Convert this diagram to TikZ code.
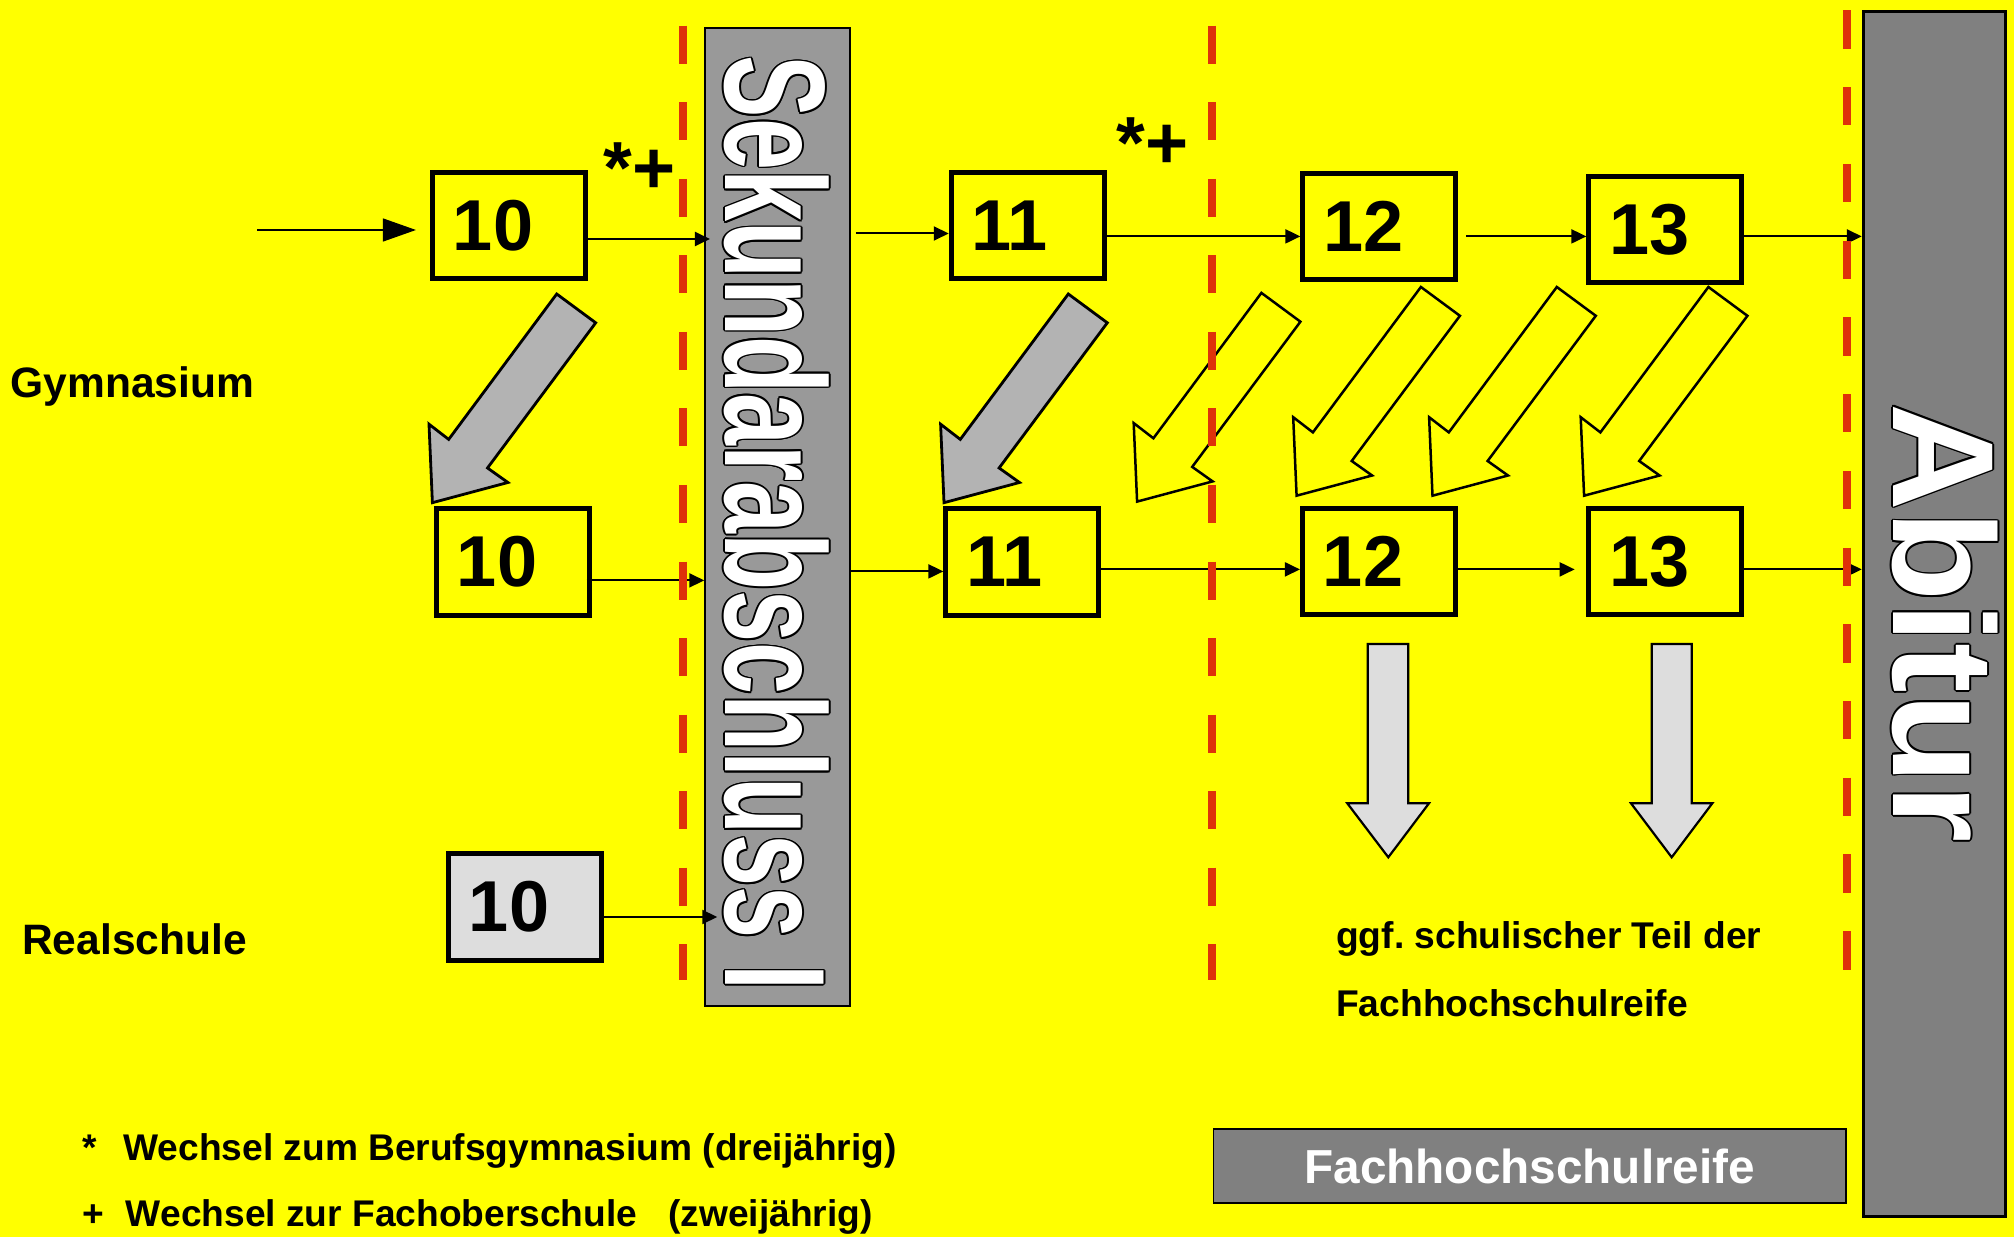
\documentclass[tikz,border=0pt]{standalone}
\usepackage{fontspec}
\setmainfont{Liberation Sans}
\newfontfamily\sekfont{Liberation Sans}[FakeStretch=0.653]
\newfontfamily\abifont{Liberation Sans}[FakeStretch=1.035]
\usetikzlibrary{arrows.meta,calc}
\frenchspacing
\definecolor{bgyellow}{RGB}{255,255,0}
\definecolor{dashred}{RGB}{222,50,10}
\definecolor{sekgray}{RGB}{153,153,153}
\definecolor{abigray}{RGB}{128,128,128}
\definecolor{arrgray}{RGB}{179,179,179}
\definecolor{boxgray}{RGB}{221,221,221}
\newcommand\blkarrow[3]{%
  \begin{scope}[shift={(#1,#2)}]
    \draw[#3] (0,0) -- (39,28.8) -- (-69.2,174) -- (-48.8,188.5) -- (-124.3,208.7) -- (-127.7,130.2) -- (-108,145.4) -- cycle;
  \end{scope}}
\newcommand\outlinetext[4]{%
  \foreach \oang in {0,30,...,330} {\node[#3, text=black] at ($(#2)+(\oang:0.016cm)$) {#4};}
  \node[#3, text=white] (#1) at (#2) {#4};}
\begin{document}
\begin{tikzpicture}[x=0.01cm,y=-0.01cm,
  yearbox/.style={draw=black, line width=0.05cm, fill=bgyellow, minimum width=1.53cm, minimum height=1.06cm,
    text width=1.12cm, inner xsep=0.205cm, inner ysep=0pt, align=left, font=\fontsize{20.5}{24}\selectfont\bfseries},
  conn/.style={line width=0.02cm, -{Triangle[length=0.15cm,width=0.14cm]}},
  bigconn/.style={line width=0.013cm, -{Triangle[length=0.33cm,width=0.23cm]}},
  lbl/.style={anchor=base west, inner sep=0pt},
  grayarrow/.style={draw=black, line width=0.028cm, fill=arrgray, line join=miter},
  yelarrow/.style={draw=black, line width=0.025cm, fill=bgyellow, line join=miter},
  downarrow/.style={draw=black, line width=0.022cm, fill=boxgray, line join=miter},
  reddash/.style={draw=dashred, line width=0.077cm, dash pattern=on 0.38cm off 0.385cm}]
\fill[bgyellow] (0,0) rectangle (2014,1237);
\useasboundingbox (0,0) rectangle (2014,1237);

% bars
\node[draw=black, line width=0.02cm, fill=sekgray, minimum width=1.45cm, minimum height=9.77cm, inner sep=0pt] (sek) at (777.8,517.25) {};
\node[draw=black, line width=0.03cm, fill=abigray, minimum width=1.42cm, minimum height=12.05cm, inner sep=0pt] (abi) at (1934.3,614) {};
\node[draw=black, line width=0.015cm, fill=abigray, minimum width=6.32cm, minimum height=0.74cm, inner sep=0pt,
  text=white, font=\fontsize{13.57}{16}\selectfont\bfseries] (fhr) at (1529.75,1166.15) {Fachhochschulreife};

% year boxes
\node[yearbox] (g10) at (509,225.4) {10};
\node[yearbox] (g11) at (1027.8,225.8) {11};
\node[yearbox] (g12) at (1379.4,226.8) {12};
\node[yearbox] (g13) at (1665.4,229.4) {13};
\node[yearbox] (r10) at (513,562) {10};
\node[yearbox] (m11) at (1022.4,562) {11};
\node[yearbox] (m12) at (1379,561.8) {12};
\node[yearbox] (m13) at (1665.4,561.8) {13};
\node[yearbox, fill=boxgray] (rs10) at (525,907) {10};

% connectors
\coordinate (inA) at (257,230);
\coordinate (yA) at (0,239);
\coordinate (yB) at (0,233.5);
\coordinate (yC) at (0,236.4);
\coordinate (yD) at (0,580.4);
\coordinate (yE) at (0,571.4);
\coordinate (yF) at (0,569.4);
\coordinate (yG) at (0,917);
\draw[bigconn, shorten >=0.14cm] (inA) -- (inA -| g10.west);
\draw[conn, shorten >=-0.057cm] (g10.east |- yA) -- (sek.west |- yA);
\draw[conn, shorten <=0.045cm] (sek.east |- yB) -- (g11.west |- yB);
\draw[conn] (g11.east |- yC) -- (g12.west |- yC);
\draw[conn, shorten <=0.077cm] (g12.east |- yC) -- (g13.west |- yC);
\draw[conn] (g13.east |- yC) -- (abi.west |- yC);
\draw[conn, shorten <=-0.055cm] (r10.east |- yD) -- (sek.west |- yD);
\draw[conn] (sek.east |- yE) -- (m11.west |- yE);
\draw[conn] (m11.east |- yF) -- (m12.west |- yF);
\draw[conn, shorten >=0.117cm] (m12.east |- yF) -- (m13.west |- yF);
\draw[conn] (m13.east |- yF) -- (abi.west |- yF);
\draw[conn, shorten >=-0.13cm] (rs10.east |- yG) -- (sek.west |- yG);

% block arrows
\blkarrow{556.7}{294}{grayarrow}
\blkarrow{1068.3}{294}{grayarrow}
\blkarrow{1261.4}{292.9}{yelarrow}
\blkarrow{1420.9}{287}{yelarrow}
\blkarrow{1556.8}{287}{yelarrow}
\blkarrow{1708.4}{287}{yelarrow}
\draw[downarrow] (1367.7,644) -- (1408.3,644) -- (1408.3,803.3) -- (1429,803.3) -- (1388.3,857.3) -- (1347.3,803.3) -- (1367.7,803.3) -- cycle;
\draw[downarrow] (1651.7,644) -- (1691.7,644) -- (1691.7,803.3) -- (1712.3,803.3) -- (1671.7,857.3) -- (1631,803.3) -- (1651.7,803.3) -- cycle;

% labels
\node[lbl, font=\fontsize{12.1}{14}\selectfont\bfseries] (gym) at (10,398) {Gymnasium};
\node[lbl, font=\fontsize{12.1}{14}\selectfont\bfseries] (real) at (21.5,955) {Realschule};
\node[lbl, font=\fontsize{21}{24}\selectfont\bfseries] (sp1) at (603,194) {*+};
\node[lbl, font=\fontsize{21}{24}\selectfont\bfseries] (sp2) at (1116,169) {*+};
\node[lbl, font=\fontsize{10.58}{12}\selectfont\bfseries] (ggf1) at (1335.5,948.5) {ggf. schulischer Teil der};
\node[lbl, font=\fontsize{10.58}{12}\selectfont\bfseries] (ggf2) at (1335.5,1017) {Fachhochschulreife};
\node[lbl, font=\fontsize{10.56}{12}\selectfont\bfseries] (leg1) at (82,1161) {*\hspace{0.263cm}Wechsel zum Berufsgymnasium (dreijährig)};
\node[lbl, font=\fontsize{10.56}{12}\selectfont\bfseries] (leg2) at (81.5,1227) {+\hspace{0.221cm}Wechsel zur Fachoberschule\hspace{0.313cm}(zweijährig)};

% outlined bar texts
\outlinetext{sektext}{725.5,55}{lbl, rotate=-90, font=\sekfont\fontsize{40.7}{44}\selectfont\bfseries}{Sekundarabschluss I}
\outlinetext{abitext}{1893.5,402.5}{lbl, rotate=-90, font=\abifont\fontsize{41}{44}\selectfont\bfseries}{Abitur}

% red dashed separators
\draw[reddash] (683,25.7) -- (683,980);
\draw[reddash] (1212,25.7) -- (1212,980);
\draw[reddash, dash pattern=on 0.383cm off 0.384cm] (1847,10.3) -- (1847,971);
\end{tikzpicture}
\end{document}
